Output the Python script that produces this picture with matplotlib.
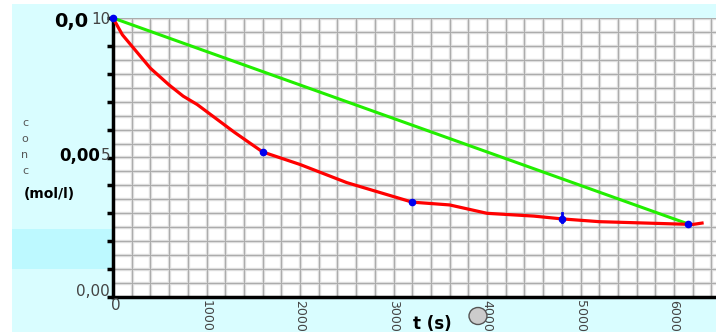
import matplotlib.pyplot as plt
import numpy as np
from matplotlib.patches import Rectangle, Ellipse

# red measured curve (hand drawn)
t_red = [0, 50, 100, 200, 300, 400, 500, 600, 750, 900, 1100, 1300, 1600,
         2000, 2500, 3000, 3200, 3600, 4000, 4500, 4800, 5200, 5700, 6200, 6300]
c_red = [0.0100, 0.0097, 0.0094, 0.0090, 0.0086, 0.0082, 0.0079, 0.0076,
         0.0072, 0.0069, 0.0064, 0.0059, 0.0052, 0.00475, 0.0041, 0.0036,
         0.0034, 0.0033, 0.0030, 0.0029, 0.0028, 0.0027, 0.00265, 0.0026, 0.00265]

# green straight line
t_green = [0, 6150]
c_green = [0.0100, 0.00262]

# blue points
t_pts = [0, 1600, 3200, 4800, 6150]
c_pts = [0.0100, 0.0052, 0.0034, 0.0028, 0.0026]

x_labels = ["1000", "2000", "3000", "4000", "5000", "6000"]
x_label_pos = [1000, 2000, 3000, 4000, 5000, 6000]

W, H = 716, 332
fig = plt.figure(figsize=(W / 100, H / 100), dpi=100)
fig.patch.set_facecolor("white")


def fx(px):
    return px / W


def fy(py):
    return 1 - py / H


# cyan panel and darker band
fig.patches.append(Rectangle((fx(12), 0), 1 - fx(12), fy(4), transform=fig.transFigure,
                             facecolor="#d9fdff", edgecolor="none", zorder=-2))
fig.patches.append(Rectangle((fx(12), fy(269)), fx(101), fy(229) - fy(269),
                             transform=fig.transFigure, facecolor="#bdf9ff",
                             edgecolor="none", zorder=-1))

x_max = (W - 113) / 93.5 * 1000
ax = fig.add_axes([fx(113), fy(297), 1 - fx(113), fy(18) - fy(297)])
ax.set_zorder(2)
ax.set_facecolor("white")
ax.set_xlim(0, x_max)
ax.set_ylim(0, 0.010)

# grid: soft gray halo with darker core
for xv in np.arange(200, x_max, 200):
    ax.axvline(xv, color="#e0e0e0", lw=2.4, zorder=1)
    ax.axvline(xv, color="#acacac", lw=0.8, zorder=1.5)
for yv in np.arange(0.0005, 0.0101, 0.0005):
    ax.axhline(yv, color="#e0e0e0", lw=2.4, zorder=1)
    ax.axhline(yv, color="#acacac", lw=0.8, zorder=1.5)

ax.plot(t_green, c_green, color="#22ee00", lw=2.2, zorder=3)
ax.plot(t_red, c_red, color="#ff0000", lw=2.3, zorder=4)
ax.plot(t_pts, c_pts, "o", color="#0000ee", ms=4.5, zorder=5, clip_on=False)
ax.plot([4800, 4800], [0.0027, 0.0030], color="#0000ee", lw=2, zorder=5)

for s in ["top", "right"]:
    ax.spines[s].set_visible(False)
ax.spines["left"].set_linewidth(2.5)
ax.spines["bottom"].set_linewidth(2.5)

ax.set_yticks(np.arange(0, 0.0101, 0.001))
ax.set_yticklabels([])
ax.tick_params(axis="y", length=4, width=2.5, direction="out")
ax.set_xticks([])

# y labels: handwritten bold part + printed gray part
fig.text(fx(111), fy(19), "10", fontsize=11, color="#444444", ha="right", va="center")
fig.text(fx(88), fy(21), "0,0", fontsize=14, fontweight="bold", color="black",
         ha="right", va="center")
fig.text(fx(110), fy(155), "5", fontsize=11, color="#444444", ha="right", va="center")
fig.text(fx(100), fy(156), "0,00", fontsize=12, fontweight="bold", color="black",
         ha="right", va="center")
fig.text(fx(110), fy(292), "0,00", fontsize=11, color="#444444", ha="right", va="center")
fig.text(fx(24), fy(194), "(mol/l)", fontsize=10, fontweight="bold", color="black",
         ha="left", va="center")
fig.text(fx(25), fy(147), "c\no\nn\nc", fontsize=8, color="#555555", ha="center",
         va="center", linespacing=1.75)

# x labels
fig.text(fx(116), fy(306), "0", fontsize=11, color="#444444", ha="center", va="center")
for pos, lab in zip(x_label_pos, x_labels):
    px = 113 + pos / 1000 * 93.5
    fig.text(fx(px), fy(300), lab, fontsize=9, color="#444444", rotation=-90,
             ha="center", va="top")
fig.text(fx(432), fy(333), "t (s)", fontsize=12, fontweight="bold", color="black",
         ha="center", va="bottom")

# slider knob
fig.patches.append(Ellipse((fx(478), fy(316)), fx(18), 17 / H, transform=fig.transFigure,
                           facecolor="#cccccc", edgecolor="#555555", lw=1, zorder=5))

fig.savefig("out.png", dpi=100)
